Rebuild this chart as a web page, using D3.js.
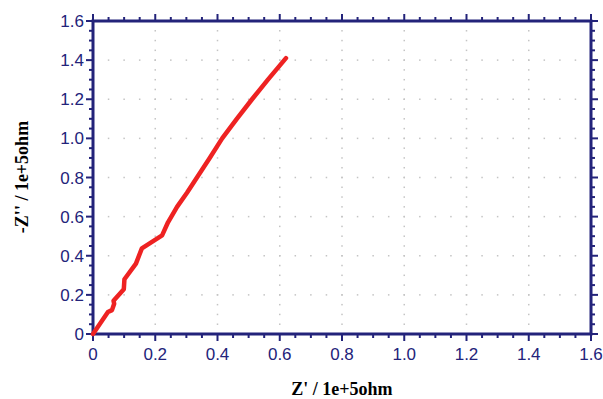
<!DOCTYPE html>
<html lang="en">
<head>
  <meta charset="UTF-8">
  <title>Nyquist plot</title>
  <style>
    body { margin: 0; background: #fff; }
    .tick-label { font-family: "Liberation Sans", Arial, sans-serif; font-size: 17px; fill: #23237a; }
    .axis-heading { font-family: "Liberation Serif", "Times New Roman", serif; font-size: 18px; font-weight: bold; fill: #000; }
  </style>
</head>
<body>
  <script src="https://d3js.org/d3.v7.min.js"></script>
  <script>
    // Z' and -Z'' in units of 1e+5 ohm
    const zReal = [0, 0.048, 0.061, 0.068, 0.066, 0.099, 0.101, 0.138, 0.157, 0.222, 0.241, 0.270, 0.302, 0.334, 0.375, 0.415, 0.462, 0.511, 0.562, 0.620];
    const zImag = [0, 0.112, 0.122, 0.155, 0.170, 0.229, 0.280, 0.360, 0.438, 0.504, 0.571, 0.650, 0.722, 0.800, 0.900, 1.000, 1.100, 1.200, 1.300, 1.410];
    const tickValues = [0, 0.2, 0.4, 0.6, 0.8, 1.0, 1.2, 1.4, 1.6];
    const tickLabels = ["0", "0.2", "0.4", "0.6", "0.8", "1.0", "1.2", "1.4", "1.6"];

    const w = 603, h = 399;
    const plotLeft = 93, plotRight = 591, plotTop = 21, plotBottom = 334;
    const axisColor = "#23237a";

    const svg = d3.select("body").append("svg")
      .attr("width", w)
      .attr("height", h);

    const xScale = d3.scaleLinear().domain([0, 1.6]).range([plotLeft, plotRight]);
    const yScale = d3.scaleLinear().domain([0, 1.6]).range([plotBottom, plotTop]);

    const minorTicks = d3.range(0, 1.6001, 0.05);

    // dotted grid: dots at minor positions along each major line
    const grid = svg.append("g").attr("fill", "#c4c4c4");
    tickValues.slice(1, -1).forEach((v) => {
      minorTicks.forEach((m) => {
        grid.append("rect").attr("x", xScale(v) - 0.75).attr("y", yScale(m) - 0.75).attr("width", 1.5).attr("height", 1.5);
        grid.append("rect").attr("x", xScale(m) - 0.75).attr("y", yScale(v) - 0.75).attr("width", 1.5).attr("height", 1.5);
      });
    });

    // ticks on all four sides, outward
    const isMajor = (m) => Math.abs(m * 5 - Math.round(m * 5)) < 1e-6;
    const ticks = svg.append("g").attr("stroke", axisColor).attr("stroke-width", 2);
    minorTicks.forEach((m) => {
      const len = isMajor(m) ? 7 : 4;
      ticks.append("line").attr("x1", xScale(m)).attr("x2", xScale(m)).attr("y1", plotBottom).attr("y2", plotBottom + len);
      ticks.append("line").attr("x1", xScale(m)).attr("x2", xScale(m)).attr("y1", plotTop).attr("y2", plotTop - len);
      ticks.append("line").attr("x1", plotLeft).attr("x2", plotLeft - len).attr("y1", yScale(m)).attr("y2", yScale(m));
      ticks.append("line").attr("x1", plotRight).attr("x2", plotRight + len).attr("y1", yScale(m)).attr("y2", yScale(m));
    });

    // frame
    svg.append("rect")
      .attr("x", plotLeft).attr("y", plotTop)
      .attr("width", plotRight - plotLeft).attr("height", plotBottom - plotTop)
      .attr("fill", "none")
      .attr("stroke", axisColor)
      .attr("stroke-width", 3);

    // tick labels
    svg.append("g").selectAll("text")
      .data(tickValues)
      .enter().append("text")
      .attr("class", "tick-label")
      .attr("x", (d) => xScale(d))
      .attr("y", plotBottom + 26)
      .attr("text-anchor", "middle")
      .text((d, i) => tickLabels[i]);

    svg.append("g").selectAll("text")
      .data(tickValues)
      .enter().append("text")
      .attr("class", "tick-label")
      .attr("x", plotLeft - 9)
      .attr("y", (d) => yScale(d) + 6)
      .attr("text-anchor", "end")
      .text((d, i) => tickLabels[i]);

    // axis titles
    svg.append("text")
      .attr("class", "axis-heading")
      .attr("text-anchor", "middle")
      .attr("x", 342)
      .attr("y", 395)
      .text("Z' / 1e+5ohm");

    svg.append("text")
      .attr("class", "axis-heading")
      .attr("text-anchor", "middle")
      .attr("transform", "translate(28," + 177 + ") rotate(-90)")
      .text("-Z'' / 1e+5ohm");

    // the curve
    const points = zReal.map((x, i) => [x, zImag[i]]);
    const line = d3.line()
      .x((d) => xScale(d[0]))
      .y((d) => yScale(d[1]));

    svg.append("path")
      .datum(points)
      .attr("d", line)
      .attr("fill", "none")
      .attr("stroke", "#ee2222")
      .attr("stroke-width", 4.5)
      .attr("stroke-linejoin", "round")
      .attr("stroke-linecap", "round");
  </script>
</body>
</html>
